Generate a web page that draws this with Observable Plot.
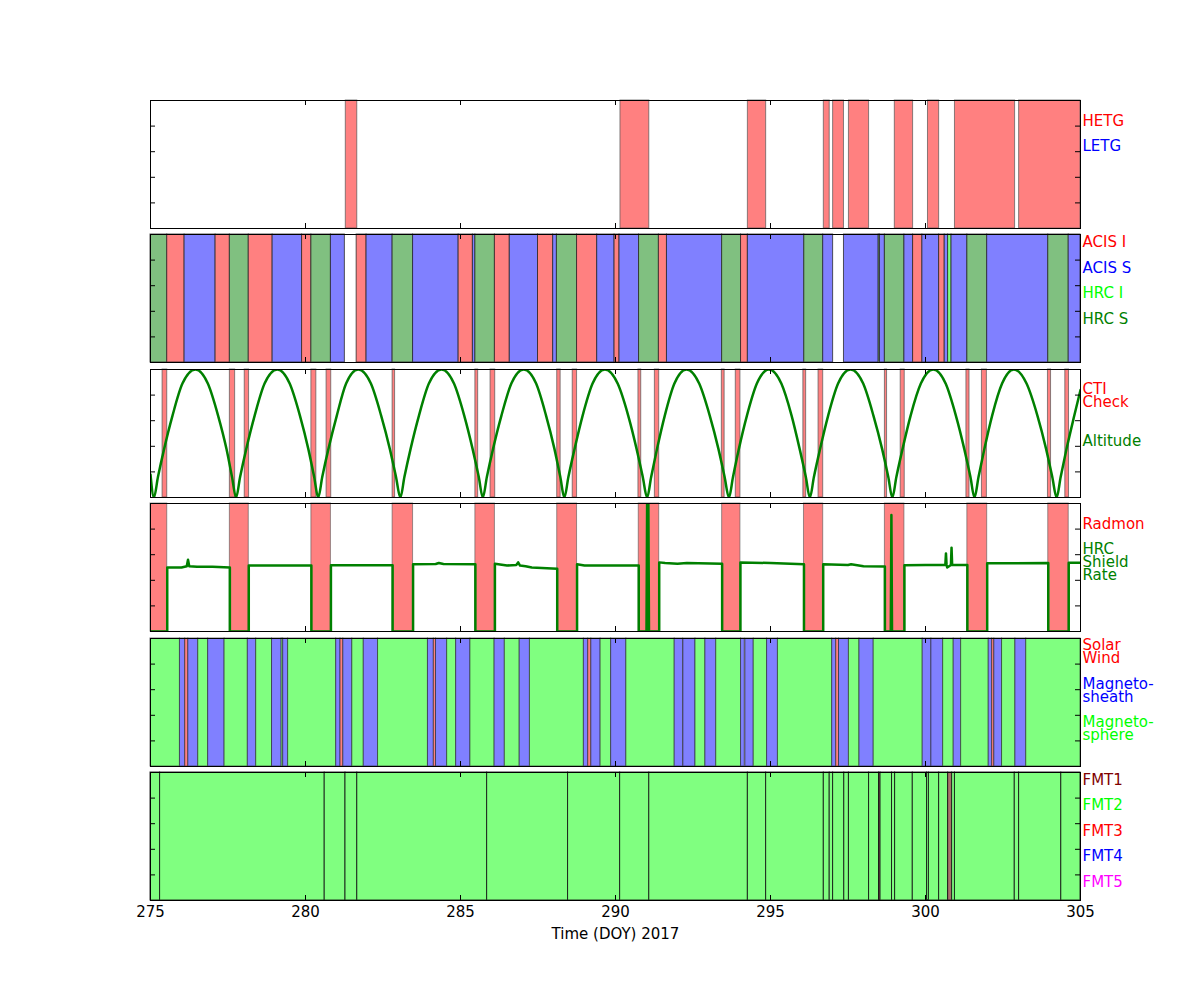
<!DOCTYPE html>
<html>
<head>
<meta charset="utf-8">
<script src="https://cdn.jsdelivr.net/npm/d3@7"></script>
<script src="https://cdn.jsdelivr.net/npm/@observablehq/plot@0.6"></script>
<style>
  body { margin: 0; background: #fff; }
  #chart { position: relative; width: 1200px; height: 1000px; background: #fff; font-family: "DejaVu Sans", sans-serif; }
  #chart svg { position: absolute; left: 0; }
</style>
</head>
<body>
<div id="chart"></div>
<script>
// ---------------- DATA ----------------
const xDomain = [275, 305];
const xTickLabels = [275, 280, 285, 290, 295, 300, 305];
const xMinorTicks = [280, 285, 290, 295, 300];
const yTicks = [0.2, 0.4, 0.6, 0.8];
const xLabel = "Time (DOY) 2017";

// Panel 1: grating intervals [start, end, grating]
const gratingIntervals = [
  [281.30, 281.67, "HETG"], [290.16, 291.09, "HETG"], [294.27, 294.86, "HETG"],
  [296.72, 296.91, "HETG"], [297.02, 297.37, "HETG"], [297.53, 298.18, "HETG"],
  [299.01, 299.60, "HETG"], [300.08, 300.44, "HETG"], [300.95, 302.89, "HETG"],
  [303.02, 305.00, "HETG"]
];

// Panel 2: instrument intervals [start, end, instrument]
const instrumentIntervals = [
  [275.00, 275.54, "HRC S"], [275.54, 276.10, "ACIS I"], [276.10, 277.10, "ACIS S"],
  [277.10, 277.56, "ACIS I"], [277.56, 278.17, "HRC S"], [278.17, 278.94, "ACIS I"],
  [278.94, 279.89, "ACIS S"], [279.89, 280.19, "ACIS I"], [280.19, 280.82, "HRC S"],
  [280.82, 281.27, "ACIS S"], [281.65, 281.97, "ACIS I"], [281.97, 282.81, "ACIS S"],
  [282.81, 283.47, "HRC S"], [283.47, 284.94, "ACIS S"], [284.94, 285.40, "ACIS I"],
  [285.40, 285.48, "ACIS S"], [285.48, 286.11, "HRC S"], [286.11, 286.59, "ACIS I"],
  [286.59, 287.50, "ACIS S"], [287.50, 287.99, "ACIS I"], [287.99, 288.11, "ACIS S"],
  [288.11, 288.76, "HRC S"], [288.76, 289.41, "ACIS I"], [289.41, 289.97, "ACIS S"],
  [289.97, 290.13, "ACIS I"], [290.13, 290.76, "ACIS S"], [290.76, 291.40, "HRC S"],
  [291.40, 291.66, "ACIS I"], [291.66, 293.44, "ACIS S"], [293.44, 294.05, "HRC S"],
  [294.05, 294.27, "ACIS I"], [294.27, 296.09, "ACIS S"], [296.09, 296.70, "HRC S"],
  [296.70, 297.02, "ACIS S"], [297.37, 298.49, "ACIS S"], [298.49, 298.53, "HRC S"],
  [298.53, 298.69, "ACIS S"], [298.69, 299.32, "HRC S"], [299.32, 299.60, "ACIS S"],
  [299.60, 299.90, "ACIS I"], [299.90, 300.44, "ACIS S"], [300.44, 300.62, "ACIS I"],
  [300.62, 300.73, "ACIS S"], [300.73, 300.84, "HRC I"], [300.84, 301.35, "ACIS S"],
  [301.35, 301.99, "HRC S"], [301.99, 303.96, "ACIS S"], [303.96, 304.62, "HRC S"],
  [304.62, 305.00, "ACIS S"]
];

// Panel 3: CTI check intervals [start, end]
const ctiIntervals = [
  [275.39, 275.54], [277.56, 277.73], [278.04, 278.18], [280.19, 280.35], [280.68, 280.83],
  [282.81, 282.89], [285.48, 285.57], [285.97, 286.12], [288.12, 288.23], [288.62, 288.76],
  [290.74, 290.83], [291.27, 291.41], [293.43, 293.52], [293.88, 294.03], [296.06, 296.15],
  [296.55, 296.70], [298.69, 298.76], [299.20, 299.33], [301.32, 301.42], [301.82, 301.98],
  [303.95, 304.05], [304.51, 304.63]
];

// Panel 3: altitude (fraction of maximum) [doy, altitude]
const altitude = [
  [275.00, 0.18], [275.11, 0.00], [275.24, 0.16], [275.44, 0.38], [275.71, 0.64], [276.03, 0.89], [276.45, 1.00],
  [276.85, 0.89], [277.18, 0.64], [277.45, 0.38], [277.63, 0.16], [277.76, 0.00],
  [277.89, 0.16], [278.09, 0.38], [278.36, 0.64], [278.68, 0.89], [279.09, 1.00],
  [279.49, 0.89], [279.82, 0.64], [280.09, 0.38], [280.28, 0.16], [280.41, 0.00],
  [280.54, 0.16], [280.74, 0.38], [281.01, 0.64], [281.31, 0.89], [281.70, 1.00],
  [282.11, 0.89], [282.44, 0.64], [282.72, 0.38], [282.92, 0.16], [283.06, 0.00],
  [283.19, 0.16], [283.39, 0.38], [283.66, 0.64], [283.98, 0.89], [284.39, 1.00],
  [284.79, 0.89], [285.12, 0.64], [285.39, 0.38], [285.59, 0.16], [285.72, 0.00],
  [285.85, 0.16], [286.05, 0.38], [286.32, 0.64], [286.64, 0.89], [287.04, 1.00],
  [287.44, 0.89], [287.76, 0.64], [288.03, 0.38], [288.22, 0.16], [288.35, 0.00],
  [288.48, 0.16], [288.68, 0.38], [288.94, 0.64], [289.26, 0.89], [289.66, 1.00],
  [290.07, 0.89], [290.41, 0.64], [290.68, 0.38], [290.88, 0.16], [291.02, 0.00],
  [291.15, 0.16], [291.34, 0.38], [291.59, 0.64], [291.90, 0.89], [292.29, 1.00],
  [292.70, 0.89], [293.04, 0.64], [293.32, 0.38], [293.52, 0.16], [293.66, 0.00],
  [293.79, 0.16], [293.98, 0.38], [294.24, 0.64], [294.56, 0.89], [294.95, 1.00],
  [295.35, 0.89], [295.68, 0.64], [295.94, 0.38], [296.14, 0.16], [296.27, 0.00],
  [296.40, 0.16], [296.60, 0.38], [296.86, 0.64], [297.18, 0.89], [297.58, 1.00],
  [297.99, 0.89], [298.32, 0.64], [298.60, 0.38], [298.80, 0.16], [298.93, 0.00],
  [299.06, 0.16], [299.26, 0.38], [299.52, 0.64], [299.85, 0.89], [300.25, 1.00],
  [300.65, 0.89], [300.98, 0.64], [301.25, 0.38], [301.45, 0.16], [301.58, 0.00],
  [301.71, 0.16], [301.90, 0.38], [302.15, 0.64], [302.47, 0.89], [302.85, 1.00],
  [303.26, 0.89], [303.61, 0.64], [303.89, 0.38], [304.09, 0.16], [304.23, 0.00],
  [304.36, 0.16], [304.55, 0.38], [304.80, 0.64], [305.00, 0.84]
];

// Panel 4: Radmon disable intervals [start, end]
const radmonIntervals = [
  [275.00, 275.54], [277.56, 278.17], [280.19, 280.82], [282.81, 283.47], [285.48, 286.11],
  [288.12, 288.76], [290.75, 291.41], [293.44, 294.03], [296.08, 296.70], [298.69, 299.32],
  [301.35, 301.99], [303.96, 304.62]
];

// Panel 4: HRC shield rate (scaled) [doy, rate]
const shieldRate = [
  [275.00, 0], [275.54, 0], [275.54, 0.50], [276.00, 0.50], [276.17, 0.51], [276.21, 0.56], [276.25, 0.51],
  [276.50, 0.505], [277.00, 0.505], [277.56, 0.50], [277.56, 0], [278.17, 0], [278.17, 0.515],
  [279.00, 0.515], [280.19, 0.515], [280.19, 0], [280.82, 0], [280.82, 0.517], [282.81, 0.517],
  [282.81, 0], [283.47, 0], [283.47, 0.525], [284.20, 0.527], [284.30, 0.535], [284.45, 0.527],
  [285.48, 0.525], [285.48, 0], [286.11, 0], [286.11, 0.53], [286.50, 0.515], [286.80, 0.52],
  [286.86, 0.54], [286.92, 0.515], [287.10, 0.51], [287.30, 0.50], [288.12, 0.49], [288.12, 0],
  [288.76, 0], [288.76, 0.525], [289.00, 0.515], [290.75, 0.515], [290.75, 0], [291.00, 0],
  [291.02, 1.00], [291.06, 1.00], [291.08, 0], [291.41, 0], [291.41, 0.54], [291.60, 0.535],
  [292.00, 0.53], [292.30, 0.535], [293.44, 0.53], [293.44, 0], [294.03, 0], [294.03, 0.54],
  [295.00, 0.535], [296.08, 0.525], [296.08, 0], [296.70, 0], [296.70, 0.525], [297.50, 0.52],
  [297.60, 0.525], [298.00, 0.51], [298.69, 0.507], [298.69, 0], [298.88, 0], [298.90, 0.91],
  [298.92, 0], [299.32, 0], [299.32, 0.517], [300.00, 0.52], [300.64, 0.52], [300.66, 0.61],
  [300.68, 0.52], [300.70, 0.50], [300.82, 0.52], [300.84, 0.655], [300.86, 0.52],
  [301.35, 0.52], [301.35, 0], [301.99, 0], [301.99, 0.533], [303.96, 0.535], [303.96, 0],
  [304.62, 0], [304.62, 0.538], [305.00, 0.538]
];

// Panel 5: environment region intervals [start, end, region]
const regionIntervals = [
  [275.00, 275.95, "MSP"], [275.95, 276.12, "MSH"], [276.12, 276.22, "SW"], [276.22, 276.54, "MSH"],
  [276.54, 276.86, "MSP"], [276.86, 277.39, "MSH"], [277.39, 278.14, "MSP"], [278.14, 278.41, "MSH"],
  [278.41, 278.92, "MSP"], [278.92, 279.23, "MSH"], [279.23, 279.28, "MSP"], [279.28, 279.44, "MSH"],
  [279.44, 280.99, "MSP"], [280.99, 281.13, "MSH"], [281.13, 281.22, "SW"], [281.22, 281.51, "MSH"],
  [281.51, 281.88, "MSP"], [281.88, 282.34, "MSH"], [282.34, 283.95, "MSP"], [283.95, 284.14, "MSH"],
  [284.14, 284.21, "SW"], [284.21, 284.57, "MSH"], [284.57, 284.86, "MSP"], [284.86, 285.32, "MSH"],
  [285.32, 286.10, "MSP"], [286.10, 286.43, "MSH"], [286.43, 286.91, "MSP"], [286.91, 287.24, "MSH"],
  [287.24, 288.98, "MSP"], [288.98, 289.12, "MSH"], [289.12, 289.22, "SW"], [289.22, 289.52, "MSH"],
  [289.52, 289.86, "MSP"], [289.86, 290.35, "MSH"], [290.35, 291.91, "MSP"], [291.91, 292.18, "MSH"],
  [292.19, 292.58, "MSH"], [292.58, 292.90, "MSP"], [292.90, 293.25, "MSH"], [293.25, 294.05, "MSP"],
  [294.05, 294.17, "MSH"], [294.19, 294.46, "MSH"], [294.46, 294.89, "MSP"], [294.89, 295.24, "MSH"],
  [295.24, 296.99, "MSP"], [296.99, 297.12, "MSH"], [297.12, 297.21, "SW"], [297.21, 297.53, "MSH"],
  [297.53, 297.87, "MSP"], [297.87, 298.33, "MSH"], [298.33, 299.91, "MSP"], [299.91, 300.19, "MSH"],
  [300.19, 300.57, "MSH"], [300.57, 300.91, "MSP"], [300.91, 301.15, "MSH"], [301.15, 302.04, "MSP"],
  [302.04, 302.15, "MSH"], [302.15, 302.22, "SW"], [302.22, 302.47, "MSH"], [302.47, 302.90, "MSP"],
  [302.90, 303.25, "MSH"], [303.25, 305.00, "MSP"]
];

// Panel 6: telemetry format intervals [start, end, format]
const fmtIntervals = [
  [275.00, 275.31, "FMT2"], [275.31, 280.62, "FMT2"], [280.62, 281.29, "FMT2"], [281.29, 281.67, "FMT2"],
  [281.67, 285.86, "FMT2"], [285.86, 288.47, "FMT2"], [288.47, 290.15, "FMT2"], [290.15, 291.09, "FMT2"],
  [291.09, 294.27, "FMT2"], [294.27, 294.86, "FMT2"], [294.86, 296.72, "FMT2"], [296.72, 296.91, "FMT2"],
  [296.91, 297.02, "FMT2"], [297.02, 297.38, "FMT2"], [297.38, 297.53, "FMT2"], [297.53, 298.18, "FMT2"],
  [298.18, 298.50, "FMT2"], [298.50, 298.55, "FMT1"], [298.55, 298.92, "FMT2"], [298.92, 299.02, "FMT2"],
  [299.02, 299.59, "FMT2"], [299.59, 300.05, "FMT2"], [300.05, 300.11, "FMT2"], [300.11, 300.44, "FMT2"],
  [300.44, 300.73, "FMT2"], [300.73, 300.86, "FMT1"], [300.86, 300.95, "FMT2"], [300.95, 302.88, "FMT2"],
  [302.88, 303.02, "FMT2"], [303.02, 304.38, "FMT2"], [304.38, 305.00, "FMT2"]
];

// Category names and colours
const gratingNames = ["HETG", "LETG"];
const gratingColors = ["red", "blue"];
const instrumentNames = ["ACIS I", "ACIS S", "HRC I", "HRC S"];
const instrumentColors = ["red", "blue", "lime", "green"];
const regionNames = ["SW", "MSH", "MSP"];
const regionColors = ["red", "blue", "lime"];
const fmtNames = ["FMT1", "FMT2", "FMT3", "FMT4", "FMT5"];
const fmtColors = ["#800000", "lime", "red", "blue", "magenta"];

// ---------------- DRAWING ----------------
const FONT = "DejaVu Sans";
const FS = 15;
const PANEL_H = 128;
const W = 1200, ML = 150, MR = 120, MT = 2, MB = 2;
const chart = document.getElementById("chart");

function lighten(c) {
  const col = d3.color(c);
  col.r = (col.r + 255) / 2; col.g = (col.g + 255) / 2; col.b = (col.b + 255) / 2;
  return col.formatHex();
}
function fillFor(names, colors) {
  const m = new Map(names.map((n, i) => [n, lighten(colors[i])]));
  return d => m.get(d[2]);
}

function panel(top, marks, labels, opts = {}) {
  const mb = opts.marginBottom ?? MB;
  const svg = Plot.plot({
    width: W,
    height: PANEL_H + MT + mb,
    marginLeft: ML, marginRight: MR, marginTop: MT, marginBottom: mb,
    x: {domain: xDomain, axis: null},
    y: {domain: [0, 1], axis: null},
    style: {fontFamily: FONT, fontSize: FS + "px", background: "transparent", overflow: "visible"},
    marks: [
      ...marks,
      Plot.tickX(xMinorTicks, {x: d => d, stroke: "black", insetTop: PANEL_H - 5}),
      Plot.tickX(xMinorTicks, {x: d => d, stroke: "black", insetBottom: PANEL_H - 5}),
      Plot.tickY(yTicks, {y: d => d, stroke: "black", insetRight: W - ML - MR - 5}),
      Plot.tickY(yTicks, {y: d => d, stroke: "black", insetLeft: W - ML - MR - 5}),
      Plot.frame({stroke: "black", strokeWidth: 1}),
      Plot.text(labels, {
        y: d => d.y, text: d => d.text, fill: d => d.color,
        frameAnchor: "right", textAnchor: "start", dx: 2, lineAnchor: "middle", fontSize: FS
      }),
      ...(opts.extra || [])
    ]
  });
  svg.style.top = (top - MT) + "px";
  chart.appendChild(svg);
}

const tops = [100, 234, 369, 503, 638, 772];

// Panel 1
panel(tops[0], [
  Plot.rect(gratingIntervals, {x1: d => d[0], x2: d => d[1], fill: fillFor(gratingNames, gratingColors),
    stroke: "#555", strokeOpacity: 0.7, strokeWidth: 1})
], [
  {text: gratingNames[0], color: gratingColors[0], y: 0.836},
  {text: gratingNames[1], color: gratingColors[1], y: 0.64}
]);

// Panel 2
panel(tops[1], [
  Plot.rect(instrumentIntervals, {x1: d => d[0], x2: d => d[1], fill: fillFor(instrumentNames, instrumentColors),
    stroke: "#222", strokeOpacity: 0.75, strokeWidth: 1})
], [
  {text: instrumentNames[0], color: instrumentColors[0], y: 0.9375},
  {text: instrumentNames[1], color: instrumentColors[1], y: 0.734},
  {text: instrumentNames[2], color: instrumentColors[2], y: 0.539},
  {text: instrumentNames[3], color: instrumentColors[3], y: 0.336}
]);

// Panel 3
panel(tops[2], [
  Plot.rect(ctiIntervals, {x1: d => d[0], x2: d => d[1], fill: "#ff8080",
    stroke: "#555", strokeOpacity: 0.7, strokeWidth: 1}),
  Plot.line(altitude, {x: d => d[0], y: d => d[1], stroke: "green", strokeWidth: 2.5,
    curve: "monotone-x", clip: true})
], [
  {text: "CTI", color: "red", y: 0.844},
  {text: "Check", color: "red", y: 0.742},
  {text: "Altitude", color: "green", y: 0.438}
]);

// Panel 4
panel(tops[3], [
  Plot.rect(radmonIntervals, {x1: d => d[0], x2: d => d[1], fill: "#ff8080",
    stroke: "#555", strokeOpacity: 0.6, strokeWidth: 1}),
  Plot.line(shieldRate, {x: d => d[0], y: d => d[1], stroke: "green", strokeWidth: 2.5, clip: true})
], [
  {text: "Radmon", color: "red", y: 0.836},
  {text: "HRC", color: "green", y: 0.64},
  {text: "Shield", color: "green", y: 0.54},
  {text: "Rate", color: "green", y: 0.438}
]);

// Panel 5
panel(tops[4], [
  Plot.rect(regionIntervals, {x1: d => d[0], x2: d => d[1], fill: fillFor(regionNames, regionColors),
    stroke: "#222", strokeOpacity: 0.6, strokeWidth: 1})
], [
  {text: "Solar", color: "red", y: 0.945},
  {text: "Wind", color: "red", y: 0.844},
  {text: "Magneto-", color: "blue", y: 0.64},
  {text: "sheath", color: "blue", y: 0.54},
  {text: "Magneto-", color: "lime", y: 0.344},
  {text: "sphere", color: "lime", y: 0.242}
]);

// Panel 6
panel(tops[5], [
  Plot.rect(fmtIntervals, {x1: d => d[0], x2: d => d[1],
    fill: d => d[2] === "FMT1" ? "#a8706a" : fillFor(fmtNames, fmtColors)(d),
    stroke: "#111", strokeOpacity: 0.85, strokeWidth: 1})
], fmtNames.map((n, i) => ({text: n, color: fmtColors[i], y: [0.9375, 0.742, 0.539, 0.344, 0.14][i]})), {
  marginBottom: 60,
  extra: [
    Plot.axisX({anchor: "bottom", ticks: xTickLabels, tickSize: 0, tickPadding: 6, fontSize: FS,
      label: null, tickFormat: d => String(d)}),
    Plot.text([xLabel], {text: d => d, frameAnchor: "bottom", dy: 34, lineAnchor: "middle", fontSize: FS, fill: "black"})
  ]
});
</script>
</body>
</html>
